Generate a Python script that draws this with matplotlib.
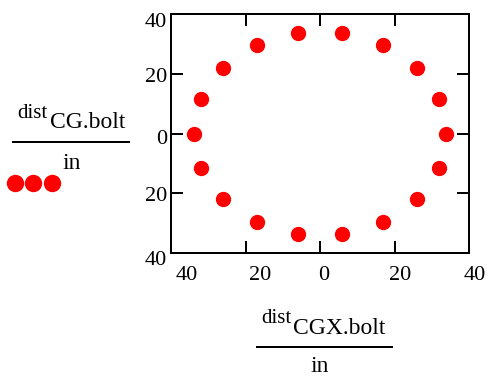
import matplotlib
matplotlib.use("Agg")
import matplotlib.pyplot as plt
from matplotlib.lines import Line2D
from matplotlib import transforms

plt.rcParams['font.family'] = ['Liberation Serif', 'DejaVu Serif']

# data (inches)
dist_x = [33.8, 31.9, 26.0, 17.0, 5.9, -5.9, -17.0, -26.0, -31.9,
          -33.8, -31.9, -26.0, -17.0, -5.9, 5.9, 17.0, 26.0, 31.9]
dist_y = [0.0, 11.6, 21.9, 29.5, 33.5, 33.5, 29.5, 21.9, 11.6,
          0.0, -11.6, -21.9, -29.5, -33.5, -33.5, -29.5, -21.9, -11.6]

tick_vals = [-40, -20, 0, 20, 40]
tick_text = ["40", "20", "0", "20", "40"]  # minus signs are lost in the original

W, H = 487, 377
fig = plt.figure(figsize=(W / 100, H / 100), dpi=100)
ax = fig.add_axes([171 / W, 1 - 253 / H, (469 - 171) / W, (253 - 14) / H])


def px(x, y):
    return x / W, 1 - y / H


ax.plot(dist_x, dist_y, ls="none", marker="o", color="red",
        markersize=10, clip_on=False)

ax.set_xlim(-40, 40)
ax.set_ylim(-40, 40)
ax.set_xticks(tick_vals)
ax.set_xticklabels(tick_text)
ax.set_yticks(tick_vals)
ax.set_yticklabels(tick_text)
ax.tick_params(direction="in", length=8.6, width=1.44, top=True, right=True,
               labelsize=16, colors="black")
ax.tick_params(axis="x", pad=9)
ax.tick_params(axis="y", pad=3)
for s in ax.spines.values():
    s.set_linewidth(1.44)

fig.canvas.draw()
# nudge tick labels the way mathcad places them
x_shift = [16, 15, 4, 5.5, 6]
y_shift = [-5, -1, -4, -1, -6]
for lab, dx in zip(ax.get_xticklabels(), x_shift):
    lab.set_transform(transforms.offset_copy(lab.get_transform(), fig=fig, x=dx, y=0, units="dots"))
for lab, dy in zip(ax.get_yticklabels(), y_shift):
    lab.set_transform(transforms.offset_copy(lab.get_transform(), fig=fig, x=0, y=dy, units="dots"))

# y label as a fraction
fig.text(*px(17, 118), "dist", fontsize=15, ha="left", va="baseline")
fig.text(*px(50, 128), "CG.bolt", fontsize=17, ha="left", va="baseline")
fig.add_artist(Line2D([13 / W, 129 / W], [1 - 142 / H, 1 - 142 / H],
                      transform=fig.transFigure, color="black", lw=1.44))
fig.text(*px(71.5, 169), "in", fontsize=17, ha="center", va="baseline")

# x label as a fraction
fig.text(*px(261, 323), "dist", fontsize=15, ha="left", va="baseline")
fig.text(*px(293, 334), "CGX.bolt", fontsize=17, ha="left", va="baseline")
fig.add_artist(Line2D([257 / W, 392 / W], [1 - 347 / H, 1 - 347 / H],
                      transform=fig.transFigure, color="black", lw=1.44))
fig.text(*px(320, 372), "in", fontsize=17, ha="center", va="baseline")

# trace symbol
sym = Line2D([], [], ls="none", marker="o", color="red", markersize=11.5)
fig.legend(handles=[sym], labels=[""], numpoints=3, frameon=False, fontsize=10,
           handlelength=3.24, handletextpad=0, borderpad=0, borderaxespad=0,
           loc="center left", bbox_to_anchor=px(10.8, 184),
           bbox_transform=fig.transFigure)

fig.savefig("out.png", dpi=100)
